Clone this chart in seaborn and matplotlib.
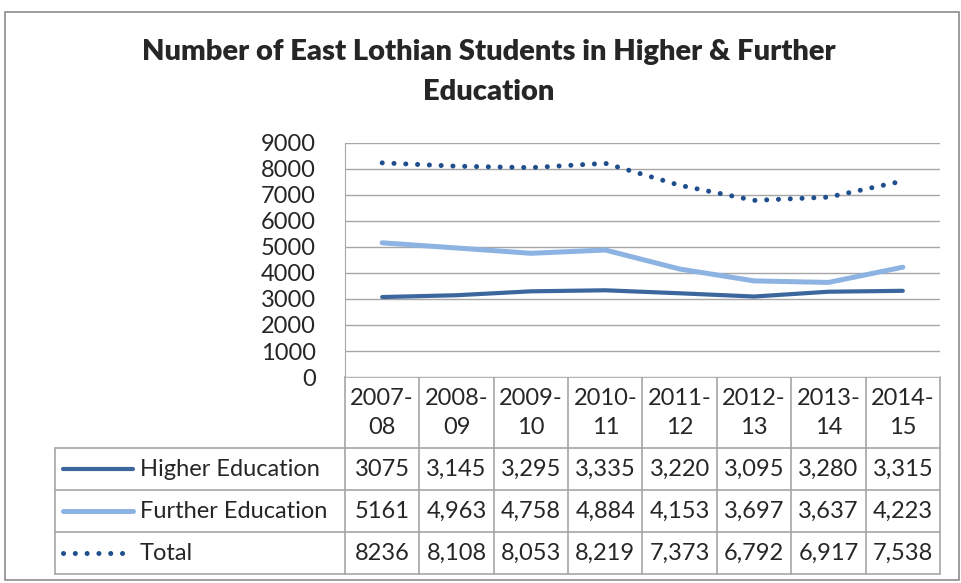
import matplotlib
matplotlib.use("Agg")
import matplotlib.pyplot as plt
import pandas as pd
import seaborn as sns
from matplotlib.patches import Rectangle
from matplotlib.lines import Line2D

# ── Data ─────────────────────────────────────────────────────────────────────
years = ["2007-08", "2008-09", "2009-10", "2010-11",
         "2011-12", "2012-13", "2013-14", "2014-15"]
higher = [3075, 3145, 3295, 3335, 3220, 3095, 3280, 3315]
further = [5161, 4963, 4758, 4884, 4153, 3697, 3637, 4223]
total = [8236, 8108, 8053, 8219, 7373, 6792, 6917, 7538]
series_names = ["Higher Education", "Further Education", "Total"]
y_ticks = list(range(0, 9001, 1000))

# ── Style ────────────────────────────────────────────────────────────────────
sns.set_style("white")
plt.rcParams["font.family"] = ["Lato", "DejaVu Sans"]
STYLE = {
    "Higher Education": dict(color="#3C679E", lw=3.0, ls="-"),
    "Further Education": dict(color="#8DB3E2", lw=3.6, ls="-"),
    "Total": dict(color="#1F4E8C", lw=3.6, ls=(0, (0.01, 2.35))),
}
GRID = "#A6A6A6"
FS = 17

W, H = 962, 583
fig = plt.figure(figsize=(W / 100, H / 100), dpi=100)

# overlay in pixel coordinates for frame, title and data table
ov = fig.add_axes([0, 0, 1, 1])
ov.set_xlim(0, W)
ov.set_ylim(H, 0)
ov.axis("off")
ov.add_patch(Rectangle((5, 12), 954, 568, fill=False, ec="#8C8C8C", lw=1.2))
ov.text(489, 52, "Number of East Lothian Students in Higher & Further",
        ha="center", va="center", fontsize=21, fontweight="heavy")
ov.text(489, 92, "Education", ha="center", va="center",
        fontsize=21, fontweight="heavy")

# ── Line chart ───────────────────────────────────────────────────────────────
px_l, px_r, px_t, px_b = 345, 940, 143, 377
ax = fig.add_axes([px_l / W, 1 - px_b / H, (px_r - px_l) / W, (px_b - px_t) / H])
df = pd.DataFrame({"year": years, "Higher Education": higher,
                   "Further Education": further, "Total": total})
for name in series_names:
    st = STYLE[name]
    sns.lineplot(data=df, x="year", y=name, ax=ax, color=st["color"],
                 linewidth=st["lw"], sort=False)
    line = ax.lines[-1]
    line.set_linestyle(st["ls"])
    line.set_dash_capstyle("round")
    line.set_solid_capstyle("round")

ax.set_xlim(-0.5, len(years) - 0.5)
ax.set_ylim(0, 9000)
ax.set_yticks(y_ticks)
ax.set_yticklabels([str(t) for t in y_ticks], fontsize=FS)
ax.set_xticks([])
ax.set_xlabel("")
ax.set_ylabel("")
ax.tick_params(axis="y", length=0, pad=21)
ax.grid(axis="y", color=GRID, lw=1)
ax.set_axisbelow(True)
for s in ["top", "right", "bottom"]:
    ax.spines[s].set_visible(False)
ax.spines["left"].set_color(GRID)

# ── Data table ───────────────────────────────────────────────────────────────
n = len(years)
cw = (px_r - px_l) / n
col_x = [px_l + i * cw for i in range(n + 1)]
rows_y = [377, 448, 490, 532, 574]
label_l = 55

# header row
for x in col_x:
    ov.plot([x, x], [rows_y[0], rows_y[1]], color=GRID, lw=1.2)
ov.plot([px_l, px_r], [rows_y[0], rows_y[0]], color=GRID, lw=1.2)
for i, yr in enumerate(years):
    a, b = yr.split("-")
    ov.text(col_x[i] + cw / 2, 413, f"{a}-\n{b}", ha="center", va="center",
            fontsize=FS, linespacing=1.5)

# body rows
for y in rows_y[1:]:
    ov.plot([label_l, px_r], [y, y], color=GRID, lw=1.2)
for x in [label_l] + col_x:
    ov.plot([x, x], [rows_y[1], rows_y[-1]], color=GRID, lw=1.2)

values = [higher, further, total]
for r, (name, vals) in enumerate(zip(series_names, values)):
    yc = (rows_y[r + 1] + rows_y[r + 2]) / 2
    st = STYLE[name]
    x_end = 126 if name == "Total" else 133
    ov.add_line(Line2D([63, x_end], [yc, yc], color=st["color"], lw=st["lw"],
                       ls=st["ls"], dash_capstyle="round",
                       solid_capstyle="round"))
    ov.text(140, yc, name, ha="left", va="center", fontsize=FS)
    for i, v in enumerate(vals):
        txt = str(v) if i == 0 else f"{v:,}"
        ov.text(col_x[i] + cw / 2, yc, txt, ha="center", va="center",
                fontsize=FS)

fig.savefig("out.png", dpi=100)
